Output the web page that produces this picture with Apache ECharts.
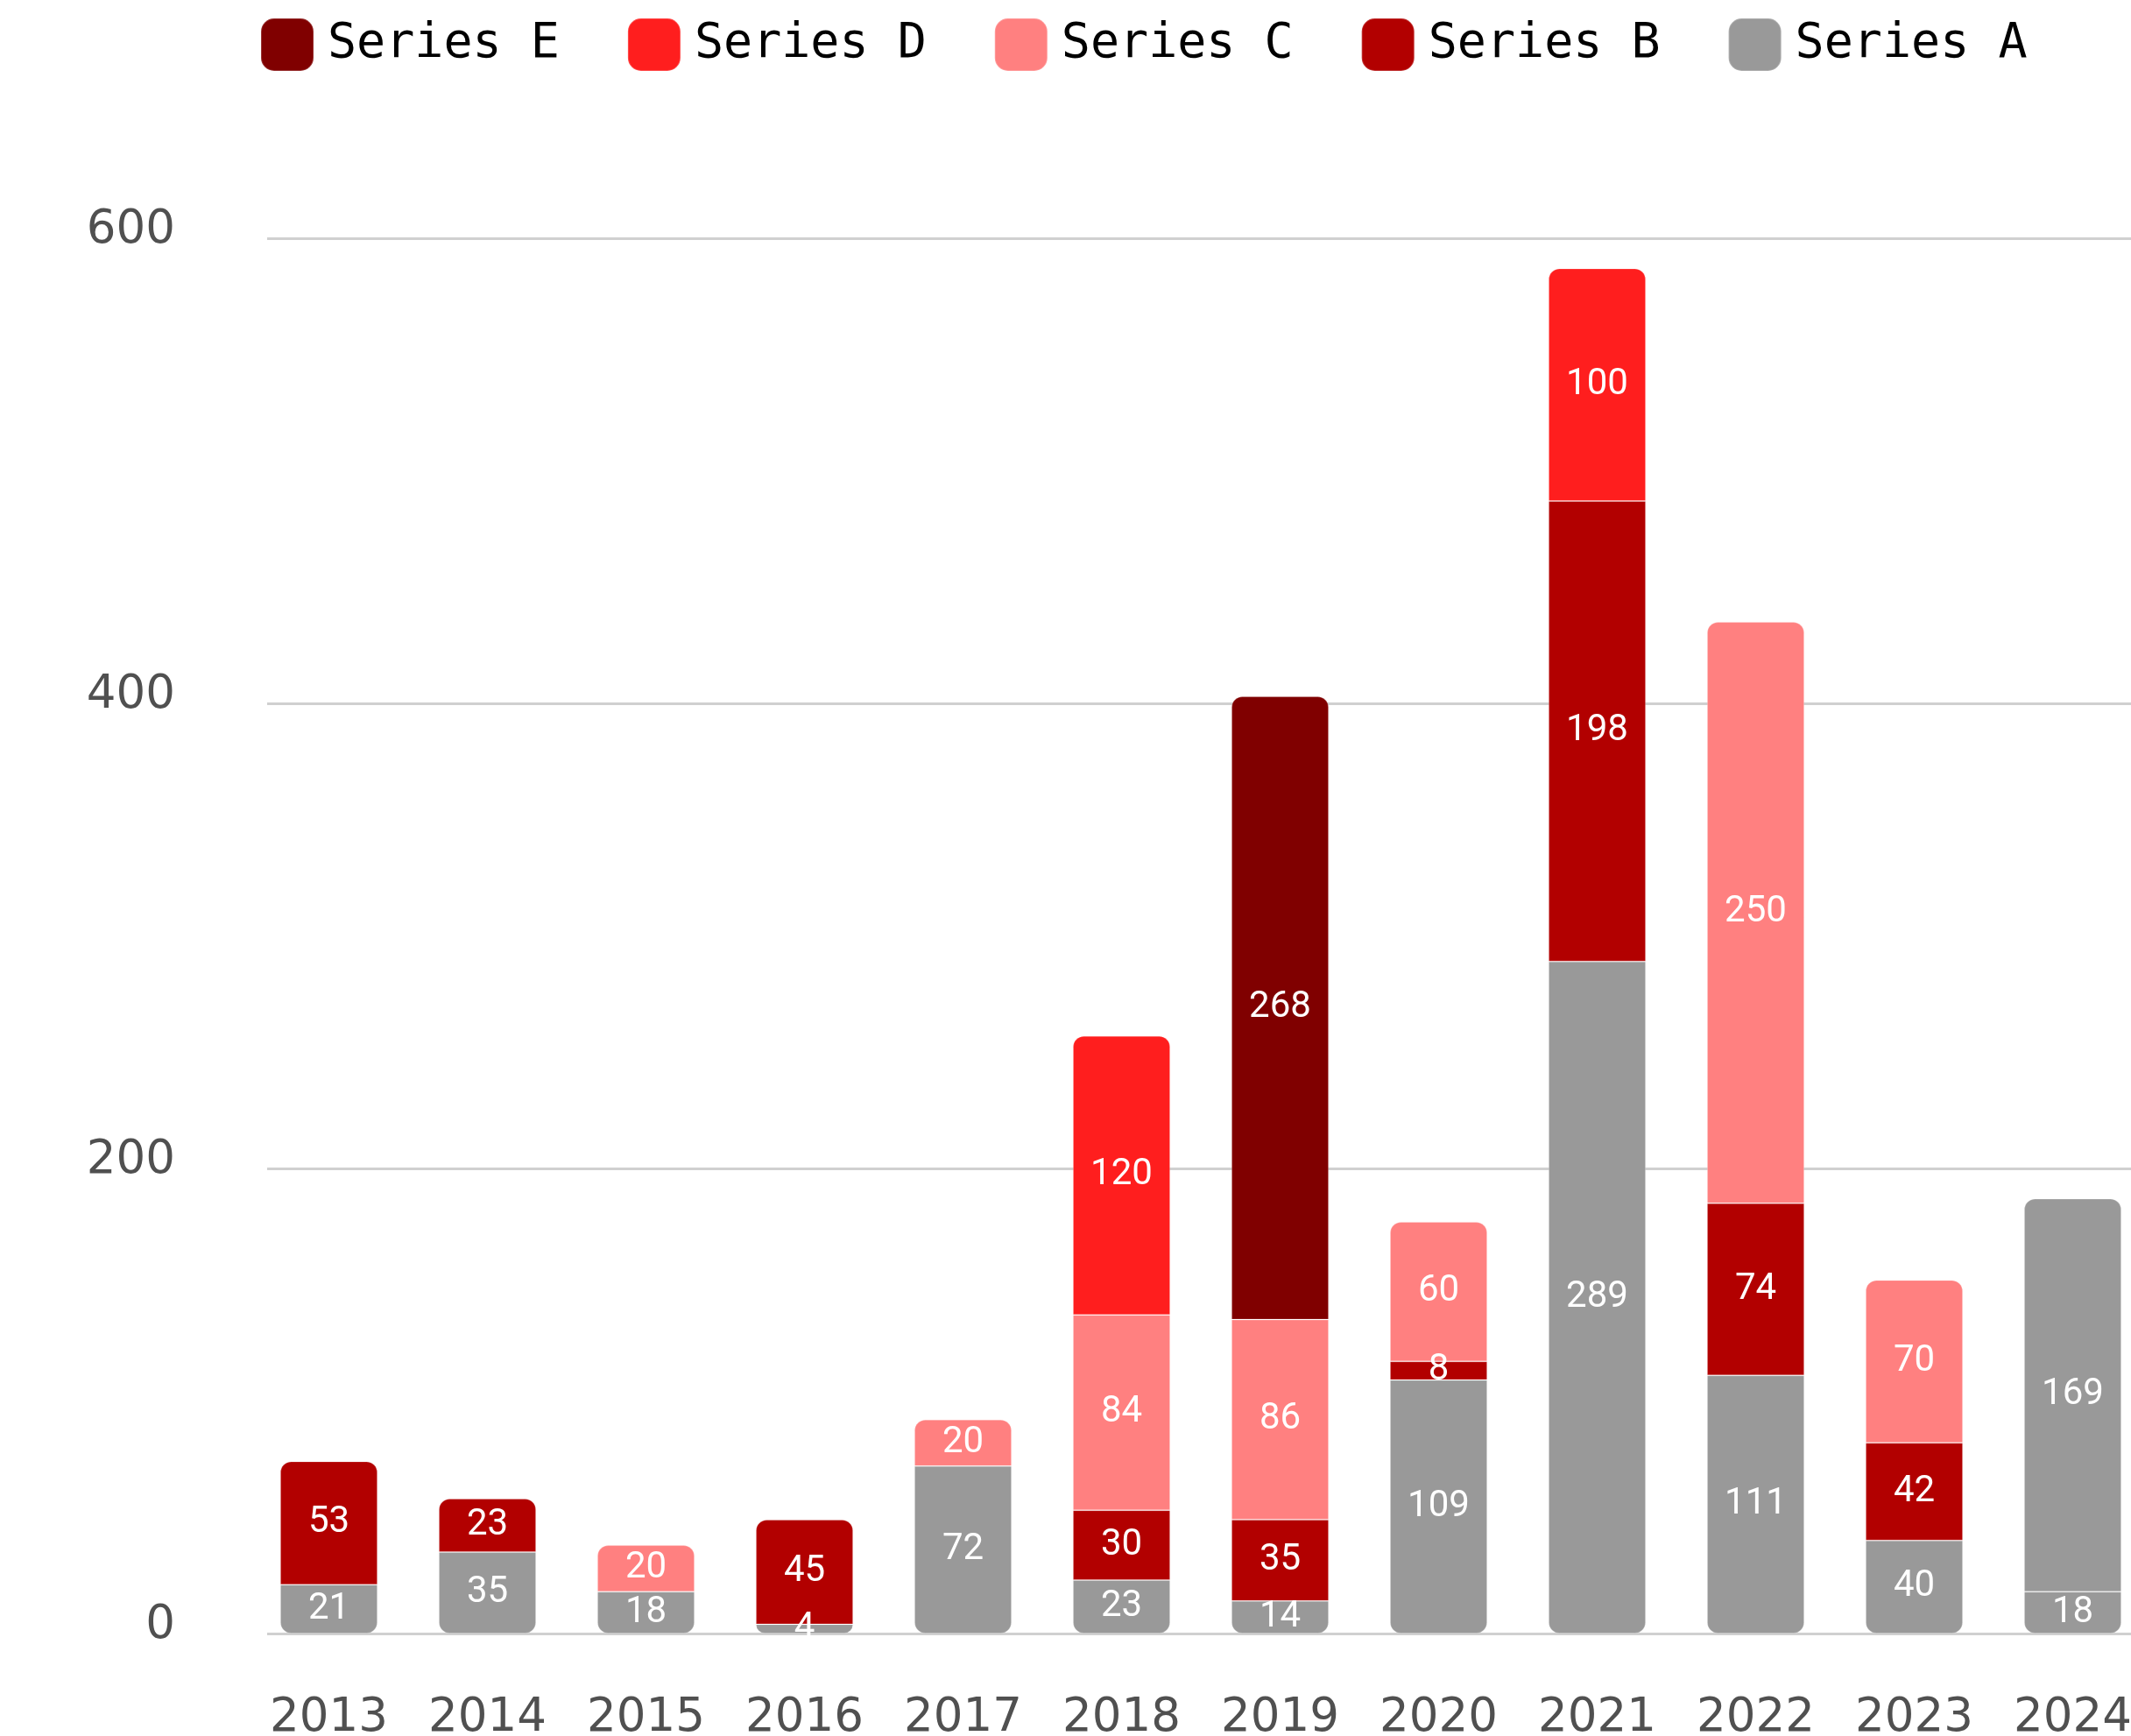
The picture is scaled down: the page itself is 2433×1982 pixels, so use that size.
<!DOCTYPE html>
<html>
<head>
<meta charset="utf-8">
<title>Stacked bars 2013–2024</title>
<script src="https://cdn.jsdelivr.net/npm/echarts@6/dist/echarts.min.js"></script>
<style>
  html, body { margin: 0; padding: 0; background: #ffffff; }
  #chart { width: 2433px; height: 1982px; }
</style>
</head>
<body>
<div id="chart"></div>
<script>
// Categories and stacked values per series
const years = ['2013', '2014', '2015', '2016', '2017', '2018', '2019', '2020', '2021', '2022', '2023', '2024'];
const seriesA = [21, 35, 18, 4, 72, 23, 14, 109, 289, 111, 40, 18];
const seriesB = [53, 23, null, 45, null, 30, 35, 8, 198, 74, 42, null];
const seriesC = [null, null, 20, null, 20, 84, 86, 60, null, 250, 70, null];
const seriesD = [null, null, null, null, null, 120, null, null, 100, null, null, null];
const seriesE = [null, null, null, null, null, null, 268, null, null, null, null, null];
// second grey block stacked on top in 2024
const seriesAUpper = [null, null, null, null, null, null, null, null, null, null, null, 169];
const yTicks = { min: 0, max: 600, interval: 200 };
const legendOrder = ['Series E', 'Series D', 'Series C', 'Series B', 'Series A'];

const stackDefs = [
  { name: 'Series A', data: seriesA, color: '#999999' },
  { name: 'Series B', data: seriesB, color: '#b20000' },
  { name: 'Series C', data: seriesC, color: '#ff8080' },
  { name: 'Series D', data: seriesD, color: '#ff1e1e' },
  { name: 'Series E', data: seriesE, color: '#800000' },
  { name: 'Series A', data: seriesAUpper, color: '#999999' }
];

// Round the outer corners of each stack: top of the highest segment, bottom of the lowest
const R = 12;
const topIdx = years.map((_, i) => {
  let t = -1;
  stackDefs.forEach((s, k) => { if (s.data[i] != null) t = k; });
  return t;
});
const botIdx = years.map((_, i) => stackDefs.findIndex(s => s.data[i] != null));

const series = stackDefs.map((s, k) => ({
  name: s.name,
  type: 'bar',
  stack: 'total',
  xAxisIndex: 0,
  yAxisIndex: 0,
  barCategoryGap: '38.6%',
  itemStyle: { color: s.color, borderColor: 'rgba(255,255,255,0.2)', borderWidth: 1 },
  label: {
    show: true,
    position: 'inside',
    color: '#ffffff',
    fontFamily: 'Roboto',
    fontSize: 42
  },
  data: s.data.map((v, i) => {
    if (v == null) return null;
    const top = topIdx[i] === k ? R : 0;
    const bot = botIdx[i] === k ? R : 0;
    return { value: v, itemStyle: { borderRadius: [top, top, bot, bot] } };
  })
}));

const axisFont = { color: '#505050', fontFamily: 'DejaVu Sans', fontSize: 53 };

const chart = echarts.init(document.getElementById('chart'), null, { renderer: 'canvas' });
chart.setOption({
  animation: false,
  backgroundColor: '#ffffff',
  legend: {
    data: legendOrder,
    left: 292,
    top: 15,
    icon: 'roundRect',
    itemWidth: 60,
    itemHeight: 60,
    itemGap: 77,
    textStyle: {
      fontFamily: 'DejaVu Sans Mono',
      fontSize: 55,
      color: '#000000',
      padding: [0, 0, 0, 11]
    }
  },
  grid: [
    // bars (the last column runs past the right edge)
    { left: 285, width: 2172, top: 272, bottom: 117, outerBoundsMode: 'none' },
    // horizontal gridlines
    { left: 305, right: 0, top: 272, bottom: 117, outerBoundsMode: 'none' },
    // value labels, sitting a little above their gridlines
    { left: 305, right: 0, top: 263, bottom: 126, outerBoundsMode: 'none' }
  ],
  xAxis: [
    {
      type: 'category',
      gridIndex: 0,
      data: years,
      axisLine: { show: false },
      axisTick: { show: false },
      axisLabel: Object.assign({ interval: 0, margin: 71 }, axisFont)
    },
    { type: 'value', gridIndex: 1, show: false },
    { type: 'value', gridIndex: 2, show: false }
  ],
  yAxis: [
    { type: 'value', gridIndex: 0, min: yTicks.min, max: yTicks.max, show: false },
    {
      type: 'value',
      gridIndex: 1,
      min: yTicks.min,
      max: yTicks.max,
      interval: yTicks.interval,
      axisLine: { show: false },
      axisTick: { show: false },
      axisLabel: { show: false },
      splitLine: { lineStyle: { color: '#d0d0d0', width: 3 } }
    },
    {
      type: 'value',
      gridIndex: 2,
      min: yTicks.min,
      max: yTicks.max,
      interval: yTicks.interval,
      axisLine: { show: false },
      axisTick: { show: false },
      splitLine: { show: false },
      axisLabel: Object.assign({ margin: 105 }, axisFont)
    }
  ],
  series: series
});
</script>
</body>
</html>
